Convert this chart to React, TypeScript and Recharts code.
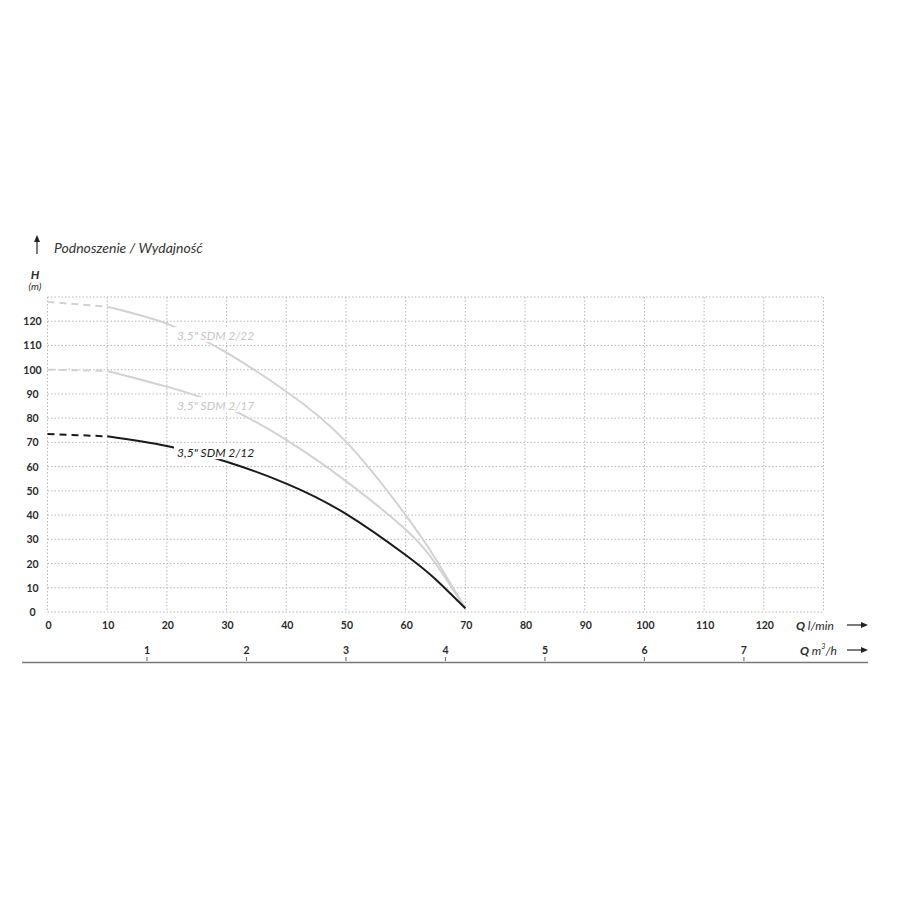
import React from 'react';
import { LineChart, Line, XAxis, YAxis, CartesianGrid, ReferenceDot } from 'recharts';

// Pump curves: head H (m) against flow Q (l/min)
const flowLpm = [0, 10, 20, 30, 40, 50, 60, 65, 70];
const headSdm212 = [73.5, 72.5, 68.5, 62, 53, 40.5, 23.5, 13.5, 1.5];
const headSdm217 = [100, 99.5, 93, 84.5, 71, 54, 34, 20, 1.5];
const headSdm222 = [128, 126, 119, 107, 91, 70.3, 40, 22, 1.5];

const flowTicks = [0, 10, 20, 30, 40, 50, 60, 70, 80, 90, 100, 110, 120, 130];
const headTicks = [0, 10, 20, 30, 40, 50, 60, 70, 80, 90, 100, 110, 120, 130];
const flowM3hTicks = [1, 2, 3, 4, 5, 6, 7];

const curveNames = ['3,5" SDM 2/12', '3,5" SDM 2/17', '3,5" SDM 2/22'];

// up to this flow the curves are drawn dashed
const DASH_END = 10;
const LPM_PER_M3H = 1000 / 60;

const rows = flowLpm.map((q, i) => ({
  q,
  sdm212: q >= DASH_END ? headSdm212[i] : null,
  sdm212Dash: q <= DASH_END ? headSdm212[i] : null,
  sdm217: q >= DASH_END ? headSdm217[i] : null,
  sdm217Dash: q <= DASH_END ? headSdm217[i] : null,
  sdm222: q >= DASH_END ? headSdm222[i] : null,
  sdm222Dash: q <= DASH_END ? headSdm222[i] : null,
}));

// m³/h ticks placed on the l/min scale
const m3hTickPositions = flowM3hTicks.map((v) => v * LPM_PER_M3H);

const FONT = 'Lato, "Open Sans", sans-serif';
const DARK = '#1a1a1a';
const LIGHT = '#d2d2d2';
const LABEL_LIGHT = '#c6c6c6';

const HeadTick = (props: any) => {
  const { x, y, payload } = props;
  if (payload.value === 130) return <g />;
  return (
    <text x={x - 15} y={y} textAnchor="middle" dominantBaseline="central"
      fontFamily={FONT} fontWeight={700} fontSize={10.5} fill="#2a2a2a">
      {payload.value}
    </text>
  );
};

const FlowTick = (props: any) => {
  const { x, y, payload } = props;
  if (payload.value === 130) return <g />;
  return (
    <text x={x + 1} y={y + 13} textAnchor="middle" dominantBaseline="central"
      fontFamily={FONT} fontWeight={700} fontSize={10.5} fill="#2a2a2a">
      {payload.value}
    </text>
  );
};

const M3hTick = (props: any) => {
  const { x, y, payload } = props;
  return (
    <g>
      <text x={x} y={y + 13} textAnchor="middle" dominantBaseline="central"
        fontFamily={FONT} fontWeight={700} fontSize={10.5} fill="#2a2a2a">
        {Math.round(payload.value / LPM_PER_M3H)}
      </text>
      <line x1={x} x2={x} y1={y + 20} y2={y + 24} stroke="#777" strokeWidth={1.2} />
    </g>
  );
};

// curve name with a white box so the line is broken under it
const curveLabel = (text: string, color: string) => (props: any) => {
  const { cx, cy } = props;
  return (
    <g>
      <rect x={cx - 3} y={cy - 8} width={80} height={15} fill="#fff" />
      <text x={cx} y={cy} dominantBaseline="central" fontFamily={FONT}
        fontStyle="italic" fontSize={12} fill={color}>
        {text}
      </text>
    </g>
  );
};

const Arrow = ({ x1, x2, y }: { x1: number; x2: number; y: number }) => (
  <g>
    <line x1={x1} x2={x2 - 5} y1={y} y2={y} stroke="#222" strokeWidth={1.2} />
    <path d={`M${x2},${y} L${x2 - 7},${y - 3} L${x2 - 7},${y + 3} Z`} fill="#222" />
  </g>
);

export default function App() {
  return (
    <div style={{ position: 'absolute', left: 0, top: 0, width: 900, height: 900, background: '#fff' }}>
      <LineChart width={900} height={680} data={rows}
        margin={{ top: 297, right: 76.5, bottom: 13, left: 7.5 }}>
        <CartesianGrid stroke="#b8b8b8" strokeDasharray="1.5 2" strokeWidth={1} />
        <XAxis dataKey="q" type="number" domain={[0, 130]} ticks={flowTicks}
          axisLine={false} tickLine={false} tickSize={0} tickMargin={0} height={25}
          tick={<FlowTick />} interval={0} />
        <XAxis xAxisId="m3" dataKey="q" type="number" domain={[0, 130]} ticks={m3hTickPositions}
          axisLine={false} tickLine={false} tickSize={0} tickMargin={0}
          height={30} tick={<M3hTick />} interval={0} />
        <YAxis type="number" domain={[0, 130]} ticks={headTicks} width={40}
          axisLine={false} tickLine={false} tickSize={0} tickMargin={0}
          tick={<HeadTick />} interval={0} />

        <Line type="monotone" dataKey="sdm222Dash" stroke={LIGHT} strokeWidth={2}
          strokeDasharray="7 5" dot={false} isAnimationActive={false} />
        <Line type="natural" dataKey="sdm222" stroke={LIGHT} strokeWidth={2}
          dot={false} isAnimationActive={false} />
        <Line type="monotone" dataKey="sdm217Dash" stroke={LIGHT} strokeWidth={2}
          strokeDasharray="7 5" dot={false} isAnimationActive={false} />
        <Line type="natural" dataKey="sdm217" stroke={LIGHT} strokeWidth={2}
          dot={false} isAnimationActive={false} />
        <Line type="monotone" dataKey="sdm212Dash" stroke={DARK} strokeWidth={2}
          strokeDasharray="7 5" dot={false} isAnimationActive={false} />
        <Line type="natural" dataKey="sdm212" stroke={DARK} strokeWidth={2}
          dot={false} isAnimationActive={false} />

        <ReferenceDot x={21.7} y={114.3} r={0} shape={curveLabel(curveNames[2], LABEL_LIGHT)} />
        <ReferenceDot x={21.7} y={85.4} r={0} shape={curveLabel(curveNames[1], LABEL_LIGHT)} />
        <ReferenceDot x={21.7} y={66} r={0} shape={curveLabel(curveNames[0], DARK)} />
      </LineChart>

      <svg width={900} height={900} style={{ position: 'absolute', left: 0, top: 0, pointerEvents: 'none' }}>
        {/* head axis caption */}
        <line x1={37} x2={37} y1={254} y2={240} stroke="#222" strokeWidth={1.2} />
        <path d="M37,235 L34,242 L40,242 Z" fill="#222" />
        <text x={54} y={253} fontFamily={FONT} fontStyle="italic" fontSize={14} fill="#333">
          Podnoszenie / Wydajność
        </text>
        <text x={35} y={274} textAnchor="middle" dominantBaseline="central" fontFamily={FONT}
          fontStyle="italic" fontWeight={700} fontSize={12} fill="#2a2a2a">H</text>
        <text x={35} y={286} textAnchor="middle" dominantBaseline="central" fontFamily={FONT}
          fontStyle="italic" fontSize={10} fill="#2a2a2a">(m)</text>

        {/* flow axis captions */}
        <text x={796} y={625} dominantBaseline="central" fontFamily={FONT} fontSize={12}
          fontStyle="italic" fill="#2a2a2a">
          <tspan fontWeight={700}>Q</tspan> l/min
        </text>
        <Arrow x1={847} x2={868} y={625} />
        <text x={800} y={650} dominantBaseline="central" fontFamily={FONT} fontSize={12}
          fontStyle="italic" fill="#2a2a2a">
          <tspan fontWeight={700}>Q</tspan> m<tspan fontSize={7} dy={-4}>3</tspan><tspan dy={4}>/h</tspan>
        </text>
        <Arrow x1={847} x2={868} y={650} />
        <line x1={22} x2={868} y1={662.5} y2={662.5} stroke="#777" strokeWidth={1.5} />
      </svg>
    </div>
  );
}
